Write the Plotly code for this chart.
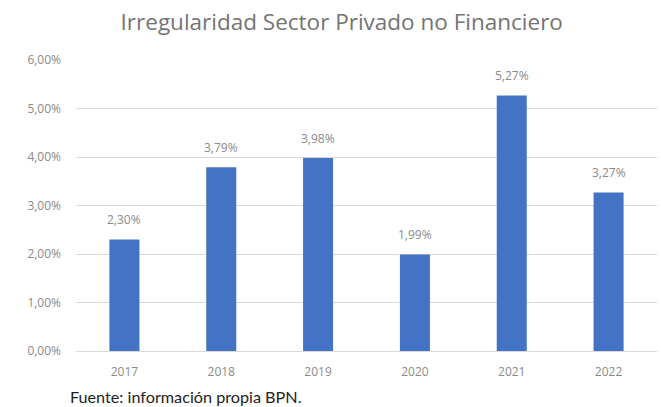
import plotly.graph_objects as go

# Irregularity rate of the non-financial private sector, by year (%)
years = ["2017", "2018", "2019", "2020", "2021", "2022"]
rates = [2.30, 3.79, 3.98, 1.99, 5.27, 3.27]
y_ticks = [0, 1, 2, 3, 4, 5, 6]
y_tick_labels = [f"{v:.2f}".replace(".", ",") + "%" for v in y_ticks]

BAR_BLUE = "#4472C4"
GRID_GRAY = "#D9D9D9"
TEXT_GRAY = "#8A8A8A"

fig = go.Figure(
    go.Bar(
        x=years,
        y=rates,
        marker=dict(color=BAR_BLUE, line=dict(width=0)),
        width=0.31,
        hovertemplate="%{x}: %{y:.2f}%<extra></extra>",
    )
)

# Value labels sitting a little above each bar; on a category axis the
# annotation x is the category's index (year strings would be read as numbers)
value_labels = [
    dict(
        x=i,
        y=val,
        xref="x",
        yref="y",
        text=f"{val:.2f}".replace(".", ",") + "%",
        showarrow=False,
        yanchor="bottom",
        yshift=9,
        font=dict(family="Open Sans", size=12, color=TEXT_GRAY),
    )
    for i, val in enumerate(rates)
]

source_note = dict(
    text="Fuente: información propia BPN.",
    xref="paper",
    yref="paper",
    x=-0.014,
    xanchor="left",
    y=-0.155,
    yanchor="middle",
    showarrow=False,
    font=dict(family="Lato", size=16.2, color="#222222"),
)

fig.update_layout(
    width=661,
    height=407,
    margin=dict(l=76, r=4, t=60, b=56),
    paper_bgcolor="white",
    plot_bgcolor="white",
    showlegend=False,
    title=dict(
        text="Irregularidad Sector Privado no Financiero",
        x=0.517,
        xanchor="center",
        y=1 - 22 / 407,
        yanchor="middle",
        font=dict(family="Open Sans", size=22.5, color="#737373"),
    ),
    xaxis=dict(
        type="category",
        categoryorder="array",
        categoryarray=years,
        range=[-0.5, len(years) - 0.5],
        showgrid=False,
        showline=True,
        linecolor=GRID_GRAY,
        linewidth=1,
        ticks="",
        ticklabelstandoff=10,
        tickfont=dict(family="Open Sans", size=12, color=TEXT_GRAY),
    ),
    yaxis=dict(
        range=[0, 6],
        tickvals=y_ticks,
        ticktext=y_tick_labels,
        showgrid=True,
        gridcolor=GRID_GRAY,
        gridwidth=1,
        zeroline=False,
        showline=False,
        ticks="",
        ticklabelstandoff=14,
        tickfont=dict(family="Open Sans", size=12, color=TEXT_GRAY),
    ),
    annotations=value_labels + [source_note],
)

fig.write_html("out.html")
